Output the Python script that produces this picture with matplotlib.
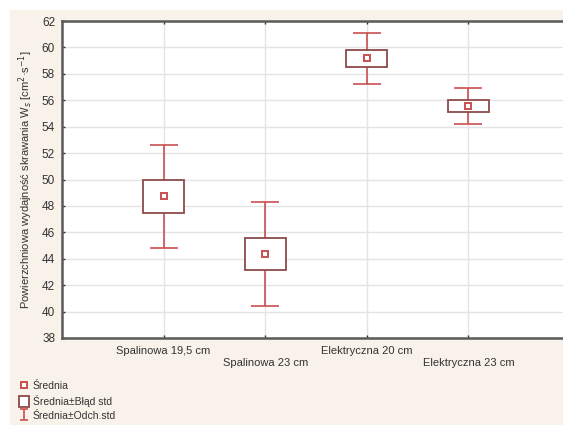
import numpy as np
import matplotlib
matplotlib.use('Agg')
import matplotlib.pyplot as plt
from matplotlib.patches import Rectangle

plt.rcParams['font.family'] = ['Liberation Sans', 'DejaVu Sans']

# data
groups = ['Spalinowa 19,5 cm', 'Spalinowa 23 cm', 'Elektryczna 20 cm', 'Elektryczna 23 cm']
means = [48.75, 44.35, 59.2, 55.6]
se_low = [47.5, 43.15, 58.55, 55.1]
se_high = [49.95, 45.6, 59.8, 56.0]
sd_low = [44.8, 40.45, 57.2, 54.2]
sd_high = [52.6, 48.3, 61.1, 56.9]
yticks = np.arange(38, 63, 2)

W, H = 563, 425
fig = plt.figure(figsize=(W / 100, H / 100), dpi=100)
fig.patch.set_facecolor('white')
fig.patches.append(Rectangle((10 / W, 0), 1, 1 - 10 / H, transform=fig.transFigure,
                             facecolor='#f8f2ea', edgecolor='none', zorder=-10))

ax = fig.add_axes([62 / W, 1 - 338 / H, (570 - 62) / W, (338 - 21) / H])
ax.set_facecolor('white')

x = np.arange(1, len(groups) + 1)
red = '#c8504f'
brown = '#8e4a4a'

means = np.array(means)
err = [means - np.array(sd_low), np.array(sd_high) - means]
ax.errorbar(x, means, yerr=err, fmt='none', ecolor=red, elinewidth=1.2,
            capsize=10, capthick=1.2, zorder=2)
bars = ax.bar(x, np.array(se_high) - np.array(se_low), bottom=se_low, width=0.4,
              facecolor='white', edgecolor=brown, linewidth=1.3, zorder=3,
              label='Średnia±Błąd std')
mk, = ax.plot(x, means, 's', mfc='white', mec=red, mew=1.4, ms=4, ls='none',
              zorder=4, label='Średnia')
# small proxy for the legend symbol
eb_proxy = ax.errorbar([np.nan], [np.nan], yerr=[1], fmt='none', ecolor=red,
                       elinewidth=1.2, capsize=3, capthick=1.2,
                       label='Średnia±Odch.std')

ax.set_xlim(0, 5)
ax.set_ylim(38, 62)
ax.set_yticks(yticks)
ax.set_xticks(x)
labels = [g if i % 2 == 0 else '\n' + g for i, g in enumerate(groups)]
ax.set_xticklabels(labels)
ax.grid(True, color='#e4e4e4', lw=1)
ax.set_axisbelow(True)
ax.tick_params(direction='in', length=2.5, width=1, colors='#333333',
               labelsize=8.5, top=True, pad=5)
ax.tick_params(axis='x', pad=6, labelsize=8)
for s in ['left', 'top', 'bottom']:
    ax.spines[s].set_color('#5a5a5a')
    ax.spines[s].set_linewidth(1.8)
ax.spines['right'].set_visible(False)

ax.set_ylabel('Powierzchniowa wydajność skrawania W$_s$ [cm$^2$·s$^{-1}$]',
              fontsize=8, color='#333333', labelpad=5)

fig.legend(handles=[mk, bars, eb_proxy], loc='upper left',
           bbox_to_anchor=(14 / W, 1 - 375 / H), frameon=False, fontsize=7.5,
           handlelength=0.9, handleheight=1.3, handletextpad=0.4,
           labelspacing=0.3, borderpad=0, labelcolor='#333333')

fig.savefig('out.png', dpi=100, facecolor=fig.get_facecolor())
